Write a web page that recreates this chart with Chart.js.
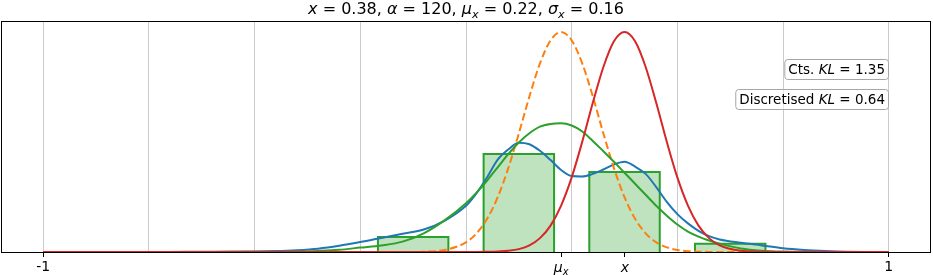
<!DOCTYPE html>
<html>
<head>
<meta charset="utf-8">
<script src="https://cdn.jsdelivr.net/npm/chart.js@4.4.1/dist/chart.umd.min.js"></script>
<style>
  html, body { margin: 0; padding: 0; background: #fff; }
  #wrap { width: 933px; height: 275px; }
</style>
</head>
<body>
<div id="wrap"><canvas id="klChart" width="933" height="275"></canvas></div>
<script>
// densities, heights relative to the peak of N(x)
const xs = [-1, -0.9, -0.8, -0.7, -0.6, -0.5, -0.45, -0.4, -0.35, -0.3, -0.25, -0.2, -0.15, -0.1, -0.05,
    0, 0.025, 0.05, 0.075, 0.1, 0.125, 0.15, 0.175, 0.2, 0.225, 0.25, 0.275, 0.3, 0.325, 0.35, 0.375,
    0.4, 0.425, 0.45, 0.475, 0.5, 0.525, 0.55, 0.575, 0.6, 0.65, 0.7, 0.75, 0.8, 0.85, 0.9, 1];
const blueCurve = [0, 0, 0, 0.0005, 0.001, 0.002, 0.004, 0.008, 0.015, 0.028, 0.045, 0.064, 0.083, 0.102, 0.143,
    0.21, 0.268, 0.34, 0.42, 0.466, 0.497, 0.49, 0.46, 0.418, 0.373, 0.345, 0.343, 0.355, 0.375, 0.398, 0.41,
    0.388, 0.355, 0.295, 0.228, 0.172, 0.13, 0.096, 0.072, 0.057, 0.042, 0.03, 0.017, 0.009, 0.004, 0.001, 0];
const orangeCurve = [0, 0, 0, 0, 0, 0, 0, 0, 0, 0, 0, 0, 0, 0.0015, 0.0094,
    0.044, 0.085, 0.151, 0.249, 0.381, 0.539, 0.707, 0.857, 0.962, 1, 0.962, 0.857, 0.707, 0.539, 0.381, 0.249,
    0.151, 0.085, 0.044, 0.021, 0.0094, 0.0039, 0.0015, 0.0005, 0, 0, 0, 0, 0, 0, 0, 0];
const greenCurve = [0, 0, 0, 0, 0.0005, 0.001, 0.0015, 0.002, 0.005, 0.01, 0.02, 0.03, 0.047, 0.085, 0.145,
    0.222, 0.27, 0.325, 0.385, 0.445, 0.498, 0.54, 0.57, 0.582, 0.585, 0.575, 0.548, 0.505, 0.458, 0.41, 0.36,
    0.31, 0.26, 0.21, 0.165, 0.125, 0.093, 0.07, 0.052, 0.038, 0.016, 0.006, 0.002, 0.001, 0, 0, 0];
const redCurve = [0, 0, 0, 0, 0, 0, 0, 0, 0, 0, 0, 0, 0, 0, 0,
    0, 0, 0.0007, 0.002, 0.0053, 0.013, 0.03, 0.063, 0.12, 0.211, 0.339, 0.501, 0.678, 0.841, 0.958, 1,
    0.958, 0.841, 0.678, 0.501, 0.339, 0.211, 0.12, 0.063, 0.03, 0.0053, 0.0007, 0, 0, 0, 0, 0];

// discretised density (histogram)
const binCentres = [-0.125, 0.125, 0.375, 0.625];
const binHeights = [0.068, 0.445, 0.364, 0.037];
const binWidth = 1 / 6;

// axis: grid every 0.25, labelled ticks only at -1, mu_x, x, 1
const gridValues = [-1, -0.75, -0.5, -0.25, 0, 0.25, 0.5, 0.75, 1];
const tickValues = [-1, 0.225, 0.376, 1];
const tickTexts = ['-1', 'μx', 'x', '1'];

const ctsKL = 1.35;
const discKL = 0.64;

const FONT = "'DejaVu Sans', sans-serif";

function fontOf(p, base) {
    const size = p.sub ? base * 0.7 : base;
    return (p.i ? 'italic ' : '') + size + 'px ' + FONT;
}

// draws a run of text pieces (some italic, some subscript) like matplotlib mathtext
function drawRich(ctx, parts, x, y, base, align) {
    const widths = parts.map(p => { ctx.font = fontOf(p, base); return ctx.measureText(p.t).width; });
    const total = widths.reduce((a, b) => a + b, 0);
    let cx = align === 'right' ? x - total : align === 'center' ? x - total / 2 : x;
    ctx.textBaseline = 'alphabetic';
    ctx.textAlign = 'left';
    parts.forEach((p, k) => {
        ctx.font = fontOf(p, base);
        ctx.fillText(p.t, cx, y + (p.sub ? base * 0.22 : 0));
        cx += widths[k];
    });
    return total;
}

const titleParts = [
    { t: 'x', i: true }, { t: ' = 0.38, ' },
    { t: 'α', i: true }, { t: ' = 120, ' },
    { t: 'μ', i: true }, { t: 'x', i: true, sub: true }, { t: ' = 0.22, ' },
    { t: 'σ', i: true }, { t: 'x', i: true, sub: true }, { t: ' = 0.16' }
];

// math tick labels (mu_x and x) drawn as rich text at their tick positions
const mathTicks = {
    'μx': [{ t: 'μ', i: true }, { t: 'x', i: true, sub: true }],
    'x': [{ t: 'x', i: true }]
};

const boxes = [
    { parts: [{ t: 'Cts. ' }, { t: 'KL', i: true }, { t: ' = ' + ctsKL.toFixed(2) }], top: 59.5 },
    { parts: [{ t: 'Discretised ' }, { t: 'KL', i: true }, { t: ' = ' + discKL.toFixed(2) }], top: 89.5 }
];

const decorPlugin = {
    id: 'decor',
    afterDatasetsDraw(chart) {
        const ctx = chart.ctx;
        const ca = chart.chartArea;
        ctx.save();
        // axes frame
        ctx.strokeStyle = '#000';
        ctx.lineWidth = 1;
        ctx.strokeRect(Math.round(ca.left) + 0.5, Math.round(ca.top) + 0.5,
            Math.round(ca.right - ca.left) - 1, Math.round(ca.bottom - ca.top));

        // KL boxes, right aligned
        const right = 888.5;
        const size = 13.5;
        boxes.forEach(b => {
            let w = 0;
            b.parts.forEach(p => { ctx.font = fontOf(p, size); w += ctx.measureText(p.t).width; });
            const bw = w + 7, bh = 20, bx = right - bw;
            ctx.beginPath();
            ctx.roundRect(bx, b.top, bw, bh, 3);
            ctx.fillStyle = 'rgba(255,255,255,0.5)';
            ctx.fill();
            ctx.strokeStyle = '#a6a6a6';
            ctx.lineWidth = 1;
            ctx.stroke();
            ctx.fillStyle = '#000';
            drawRich(ctx, b.parts, right - 3.5, b.top + 14.5, size, 'right');
        });
        ctx.restore();
    },
    afterDraw(chart) {
        const ctx = chart.ctx;
        const ca = chart.chartArea;
        const xScale = chart.scales.x;
        ctx.save();
        ctx.fillStyle = '#000';
        drawRich(ctx, titleParts, (ca.left + ca.right) / 2, 14, 16, 'center');
        tickValues.forEach((v, k) => {
            const parts = mathTicks[tickTexts[k]];
            if (parts) drawRich(ctx, parts, xScale.getPixelForValue(v), ca.bottom + 19.5, 14, 'center');
        });
        ctx.restore();
    }
};

function curve(label, values, color, dash, order) {
    return {
        label: label,
        data: xs.map((x, k) => ({ x: x, y: values[k] })),
        borderColor: color,
        borderWidth: 2,
        borderDash: dash,
        pointRadius: 0,
        fill: false,
        cubicInterpolationMode: 'monotone',
        order: order
    };
}

const datasets = [
    curve('posterior', blueCurve, '#1f77b4', [], 4),
    curve('prior', orangeCurve, '#ff7f0e', [7.5, 3.5], 3),
    curve('discretised', greenCurve, '#2ca02c', [], 2),
    curve('likelihood', redCurve, '#d62728', [], 1)
];

binCentres.forEach((c, k) => {
    const l = c - binWidth / 2, r = c + binWidth / 2, h = binHeights[k];
    datasets.push({
        label: 'bin ' + k,
        data: [{ x: l, y: 0 }, { x: l, y: h }, { x: r, y: h }, { x: r, y: 0 }],
        borderColor: '#2ca02c',
        backgroundColor: 'rgba(44,160,44,0.3)',
        borderWidth: 2,
        pointRadius: 0,
        tension: 0,
        fill: 'origin',
        order: 10
    });
});

new Chart(document.getElementById('klChart'), {
    type: 'line',
    data: { datasets: datasets },
    options: {
        responsive: false,
        animation: false,
        layout: { padding: { top: 21, left: 1, right: 2, bottom: 0 } },
        plugins: {
            legend: { display: false },
            tooltip: { enabled: false },
            title: { display: false }
        },
        scales: {
            x: {
                type: 'linear',
                min: -1.1,
                max: 1.1,
                offset: false,
                afterBuildTicks: scale => {
                    const vals = [...new Set(gridValues.concat(tickValues))].sort((a, b) => a - b);
                    scale.ticks = vals.map(v => ({ value: v }));
                },
                afterFit: scale => { scale.height = 23; },
                border: { display: false },
                grid: {
                    offset: false,
                    lineWidth: 1,
                    color: ctx => (ctx.tick && gridValues.includes(ctx.tick.value)) ? '#cccccc' : 'rgba(0,0,0,0)',
                    tickColor: ctx => (ctx.tick && tickValues.includes(ctx.tick.value)) ? '#000' : 'rgba(0,0,0,0)',
                    tickLength: 5,
                    tickWidth: 1
                },
                ticks: {
                    autoSkip: false,
                    maxRotation: 0,
                    padding: 2,
                    color: '#000',
                    font: { family: FONT, size: 14 },
                    callback: value => {
                        const k = tickValues.indexOf(value);
                        if (k < 0 || mathTicks[tickTexts[k]]) return '';
                        return tickTexts[k];
                    }
                }
            },
            y: {
                display: false,
                min: 0,
                max: 1.05
            }
        }
    },
    plugins: [decorPlugin]
});
</script>
</body>
</html>
